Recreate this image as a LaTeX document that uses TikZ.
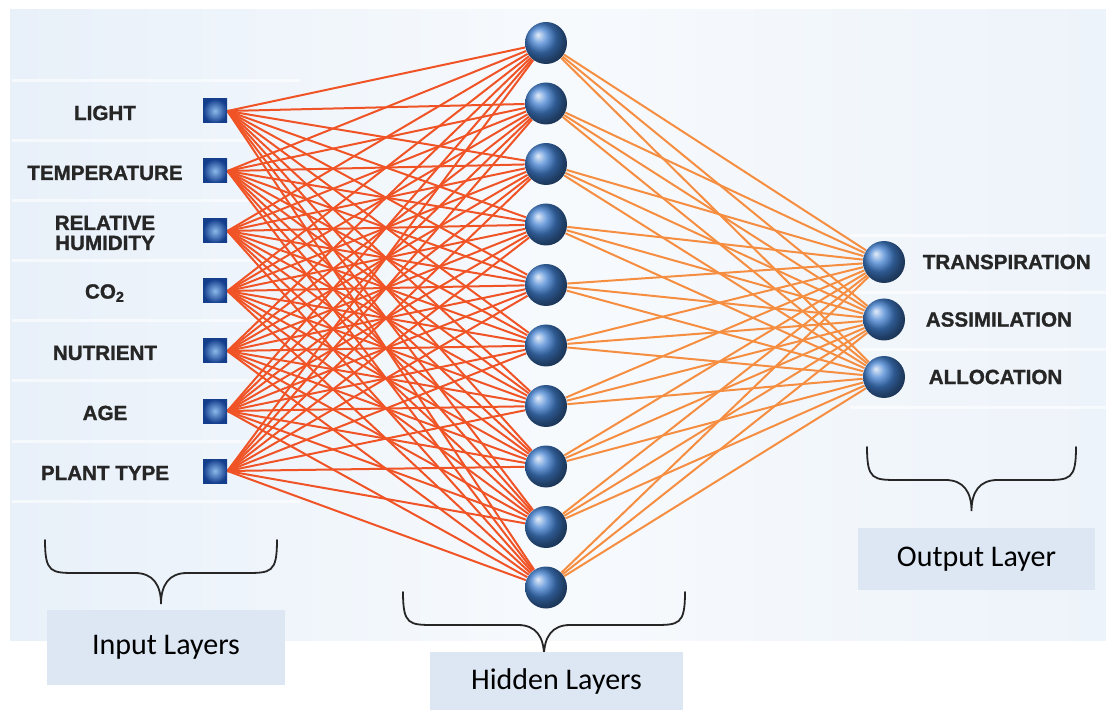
\documentclass[tikz,border=0pt]{standalone}
\usepackage{fontspec}
\setmainfont{Carlito}
\newfontfamily\capsfont{Liberation Sans}[BoldFeatures={FakeBold=1.2}]
\usetikzlibrary{positioning}

\definecolor{netorange}{RGB}{240, 84, 38}
\definecolor{netamber}{RGB}{246, 142, 66}
\definecolor{netblue}{RGB}{66, 128, 208}
\definecolor{netdark}{RGB}{20, 62, 140}
\definecolor{netlight}{RGB}{140, 184, 235}
\definecolor{boxfill}{RGB}{220, 231, 243}
\definecolor{panelleft}{RGB}{232, 240, 249}
\definecolor{panelmid}{RGB}{247, 250, 253}
\definecolor{panelright}{RGB}{237, 243, 250}

\pgfdeclarelayer{panel}
\pgfdeclarelayer{wires}
\pgfsetlayers{panel,wires,main}

\tikzset{
  inputnode/.style={rectangle, minimum size=12pt, inner sep=0pt,
    inner color=netlight, outer color=netdark},
  neuron/.style={circle, minimum size=21pt, inner sep=0pt, ball color=netblue},
  feature/.style={font=\capsfont\bfseries\fontsize{10.3}{10}\selectfont,
    text=black!85, align=center, inner sep=1pt},
  layerbox/.style={fill=boxfill, font=\fontsize{15}{16}\selectfont, inner sep=0pt},
  wire/.style={line width=1pt},
  bracepath/.style={line width=0.9pt, black!85, line cap=round},
}

% curly brace: left x, right x, top y (pixel units, y pointing down)
\newcommand{\layerbrace}[3]{%
  \pgfmathsetmacro\bxm{(#1+#2)/2}
  \pgfmathsetmacro\bym{#3+33}
  \pgfmathsetmacro\byt{#3+64}
  \draw[bracepath] (#1,#3) .. controls (#1,\bym) and (#1+6,\bym) .. (#1+32,\bym)
    -- (\bxm-26,\bym) .. controls (\bxm-8,\bym) and (\bxm,\bym+12) .. (\bxm,\byt)
    .. controls (\bxm,\bym+12) and (\bxm+8,\bym) .. (\bxm+26,\bym)
    -- (#2-32,\bym) .. controls (#2-6,\bym) and (#2,\bym) .. (#2,#3);
}

\begin{document}
\begin{tikzpicture}[x=0.5pt, y=-0.5pt]
  \useasboundingbox (0,0) rectangle (1106,710);

  % backdrop and row bands
  \begin{pgfonlayer}{panel}
    \fill[left color=panelleft, right color=panelright, middle color=panelmid]
      (10,10) rectangle (1106,640);
    \foreach \y in {81,141,...,501}
      \draw[white, line width=1.5pt, opacity=0.6] (12,\y) -- (300,\y);
    \foreach \y in {236,293,350,407}
      \draw[white, line width=1.5pt, opacity=0.6] (850,\y) -- (1106,\y);
  \end{pgfonlayer}

  % input squares
  \foreach \i in {1,...,7}
    \node[inputnode] (in\i) at (215,{111+60*(\i-1)}) {};
  % hidden neurons
  \foreach \j in {1,...,10}
    \node[neuron] (hid\j) at (546,{43+60.5*(\j-1)}) {};
  % output neurons
  \foreach \k in {1,2,3}
    \node[neuron] (out\k) at (884,{262+57.5*(\k-1)}) {};

  % input feature names
  \foreach \i/\txt in {1/LIGHT, 2/TEMPERATURE, 3/{RELATIVE\\HUMIDITY},
      4/CO\textsubscript{2}, 5/NUTRIENT, 6/AGE, 7/PLANT TYPE}
    \node[feature] (feat\i) at (105,{113+60*(\i-1)}) {\txt};

  % output names
  \node[feature, right=7.5pt of out1] (res1) {TRANSPIRATION};
  \node[feature, right=9pt of out2] (res2) {ASSIMILATION};
  \node[feature, right=10.5pt of out3] (res3) {ALLOCATION};

  % fully connected wiring
  \begin{pgfonlayer}{wires}
    \foreach \i in {1,...,7}
      \foreach \j in {1,...,10}
        \draw[wire, netorange] (in\i.east) -- (hid\j);
    \foreach \j in {1,...,10}
      \foreach \k in {1,2,3}
        \draw[wire, netamber] (hid\j) -- (out\k);
  \end{pgfonlayer}

  % braces and layer captions
  \layerbrace{45}{277}{540}
  \layerbrace{403}{685}{592}
  \layerbrace{867}{1076}{447}
  \node[layerbox, minimum width=119pt, minimum height=37.5pt] (inbox) at (166,647.5) {Input Layers};
  \node[layerbox, minimum width=126.5pt, minimum height=29pt] (hidbox) at (556.5,681) {Hidden Layers};
  \node[layerbox, minimum width=118.5pt, minimum height=31pt] (outbox) at (976.5,559) {Output Layer};
\end{tikzpicture}
\end{document}
